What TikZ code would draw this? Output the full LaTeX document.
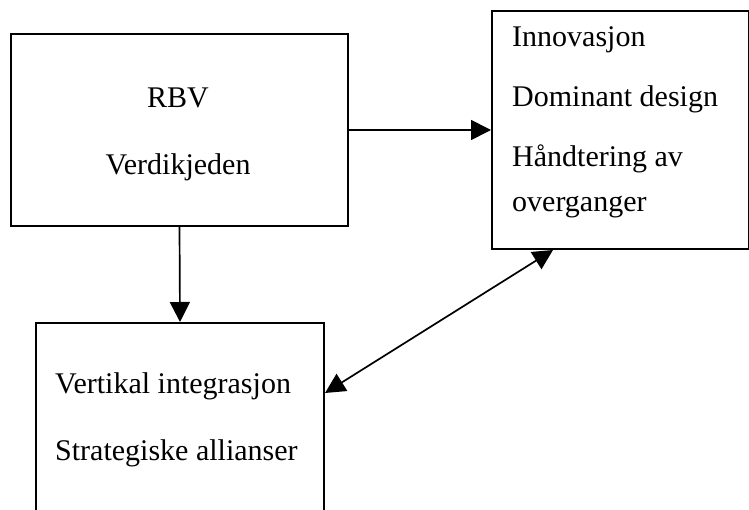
\documentclass[tikz,border=0pt]{standalone}
\usepackage{fontspec}
\setmainfont{Liberation Serif}
\usepackage{tikz}
\usetikzlibrary{arrows.meta,positioning,calc}

\begin{document}
\begin{tikzpicture}[
  x=1pt, y=-1pt,
  box/.style={rectangle,draw,line width=2pt,anchor=north west,inner sep=0pt},
  txt/.style={anchor=base west,inner sep=0pt,font=\fontsize{30}{36}\selectfont},
  arr/.style={-{Triangle[length=20pt,width=20pt]},line width=1.7pt},
  dblarr/.style={{Triangle[length=20pt,width=20pt]}-{Triangle[length=20pt,width=20pt]},line width=1.7pt},
]
\useasboundingbox (0,0) rectangle (749,510);
\clip (0,0) rectangle (749,510);
\node[box,minimum width=337pt,minimum height=192pt] (rbv) at (10,33) {};
\node[box,minimum width=257pt,minimum height=238pt] (inno) at (491,10) {};
\node[box,minimum width=288pt,minimum height=230pt] (alli) at (35,322) {};

\node[txt,anchor=base] (rbvtxt) at (178,108) {RBV};
\node[txt,anchor=base] (verdi) at (178,175) {Verdikjeden};
\node[txt] (innotxt) at (512,47) {Innovasjon};
\node[txt] (dom) at (512,107) {Dominant design};
\node[txt] (hand) at (512,167) {Håndtering av};
\node[txt] (overg) at (512,212) {overganger};
\node[txt] (vert) at (55,393) {Vertikal integrasjon};
\node[txt] (strat) at (55,460) {Strategiske allianser};

\draw[arr] (rbv.east) -- (inno.west);
\draw[arr] (rbv.south) -- (alli.north);
\draw[dblarr] ([xshift=62pt]inno.south west) -- ([yshift=-71pt]alli.north east);
\end{tikzpicture}
\end{document}
